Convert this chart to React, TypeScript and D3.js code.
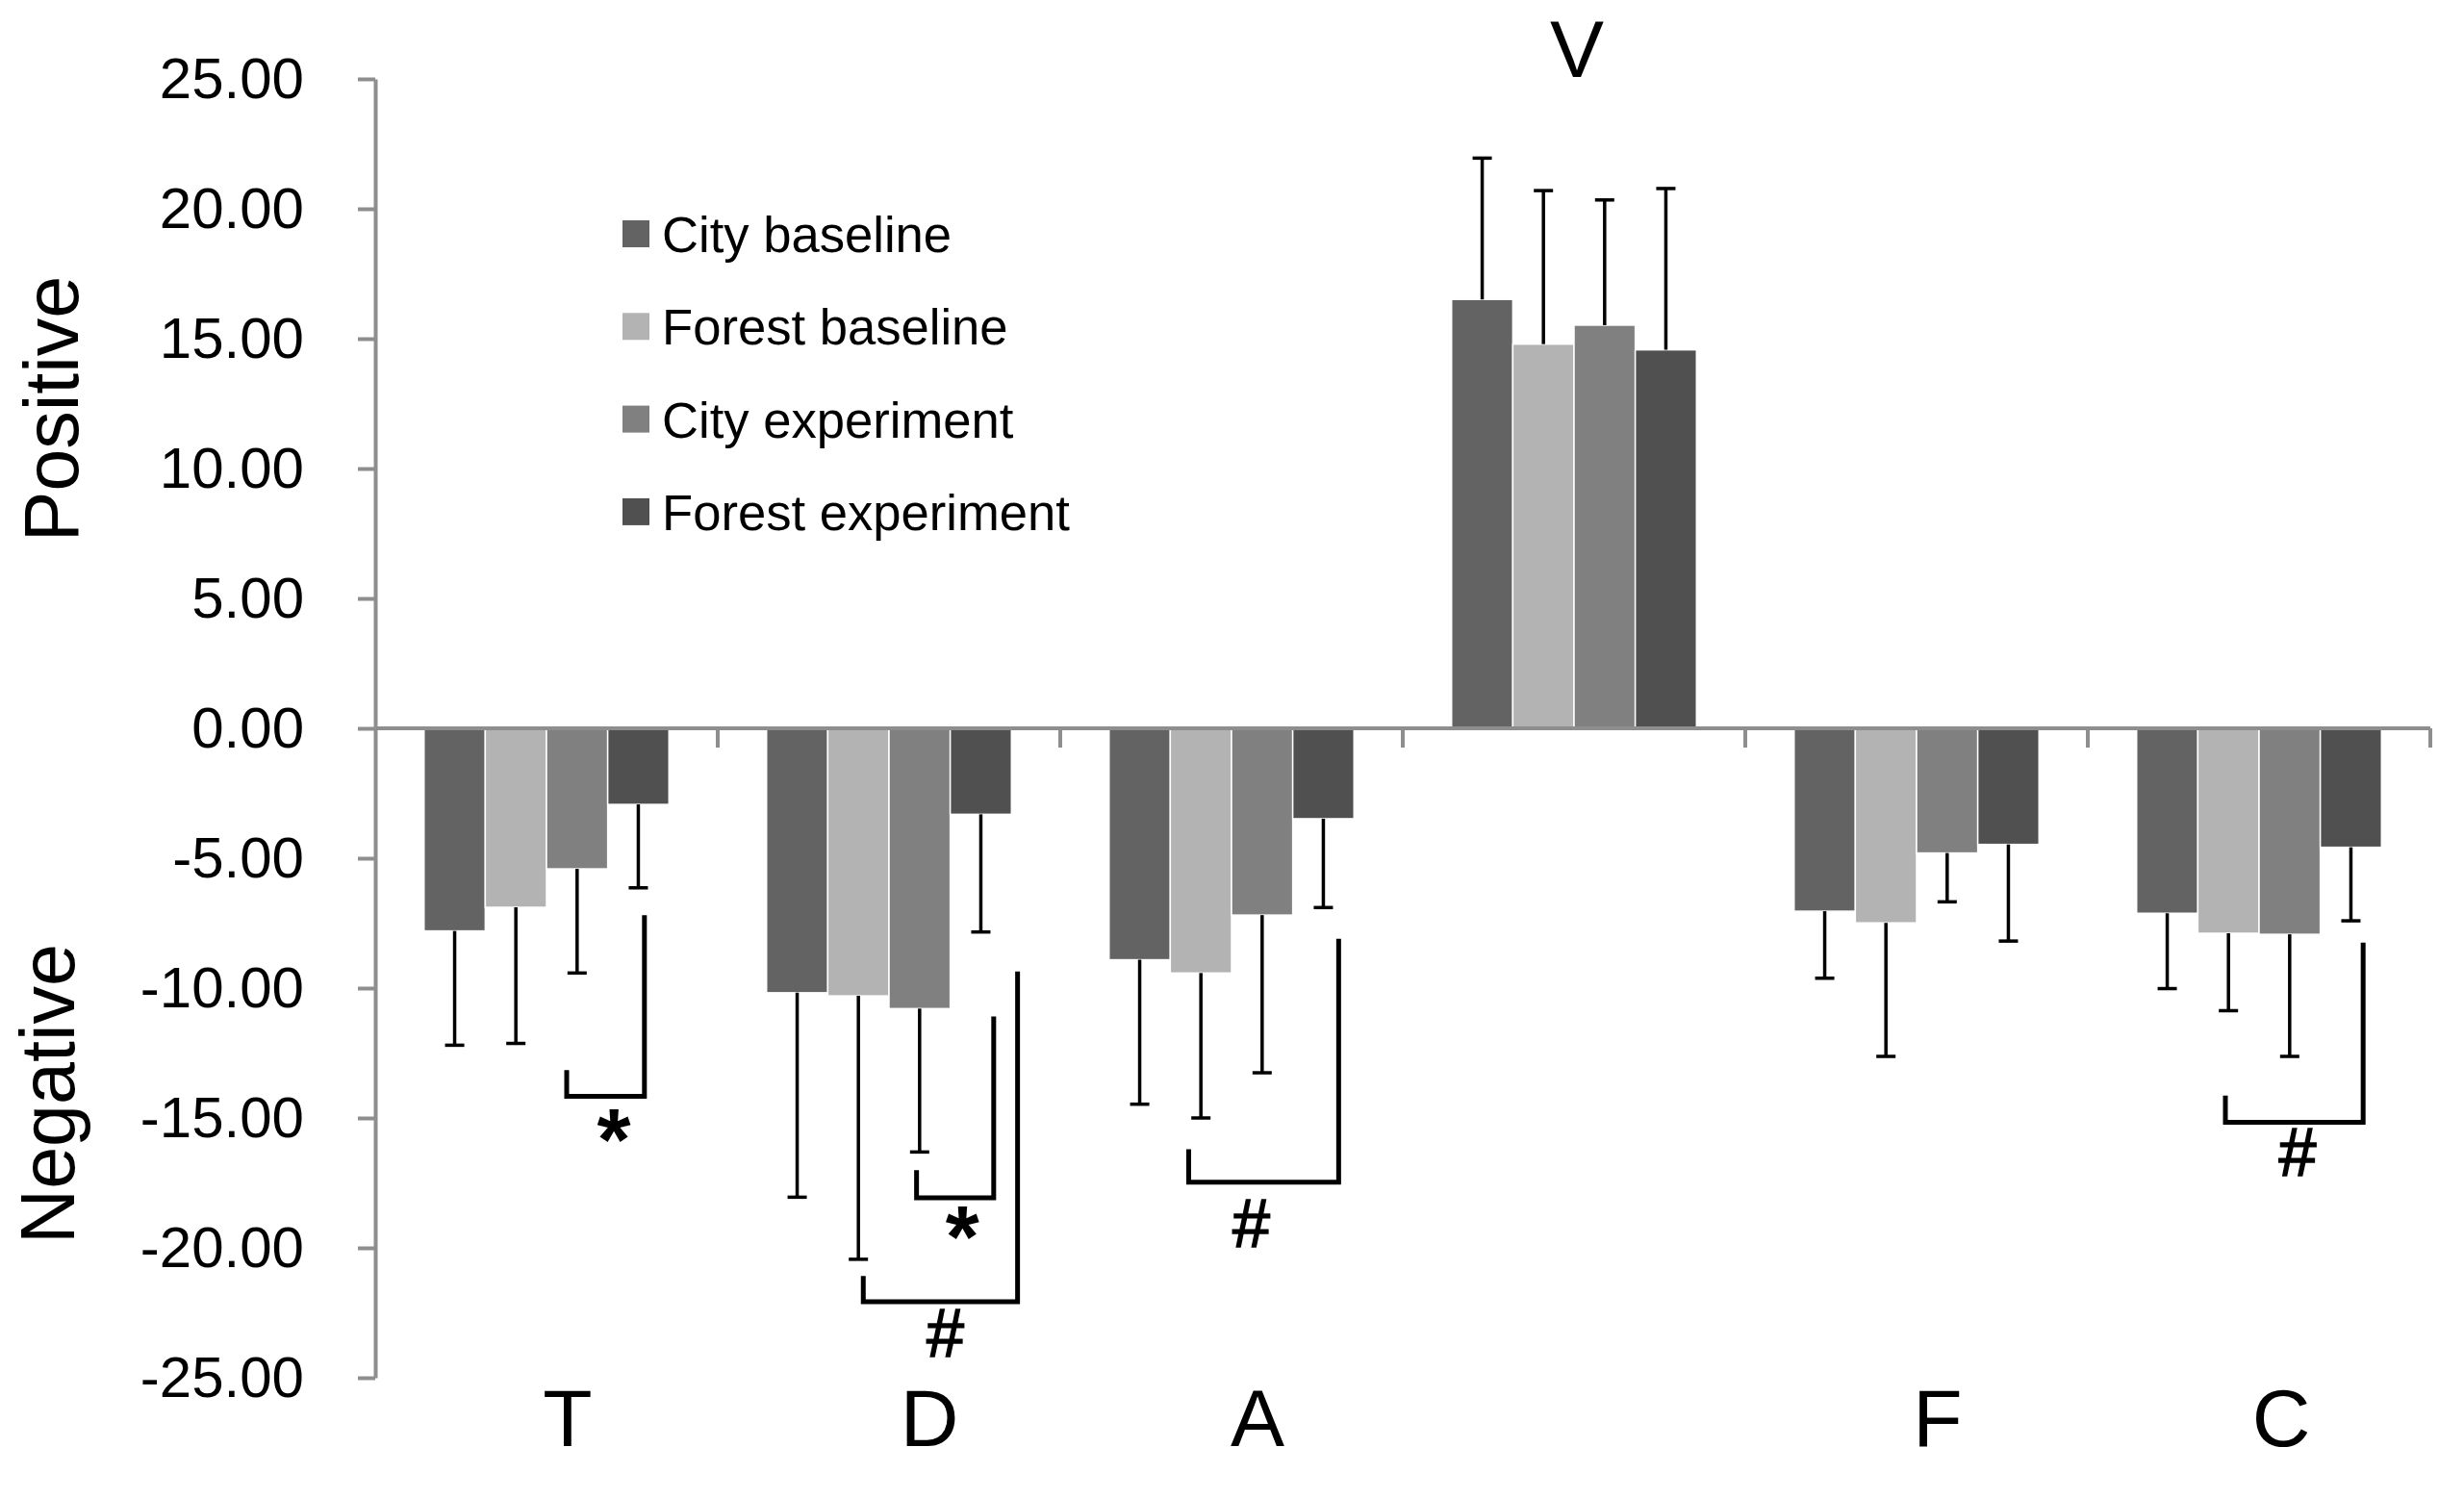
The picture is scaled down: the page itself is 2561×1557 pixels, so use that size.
import { useEffect, useRef } from "react";
import * as d3 from "d3";

// categories along the x axis
const categories = ["T", "D", "A", "V", "F", "C"];
const seriesNames = ["City baseline", "Forest baseline", "City experiment", "Forest experiment"];
const seriesColors = ["#636363", "#b3b3b3", "#808080", "#505050"];

// means per series (one value per category)
const cityBaseline = [-7.8, -10.18, -8.91, 16.51, -7.04, -7.12];
const forestBaseline = [-6.89, -10.3, -9.42, 14.79, -7.49, -7.89];
const cityExperiment = [-5.41, -10.79, -7.19, 15.52, -4.8, -7.93];
const forestExperiment = [-2.93, -3.31, -3.48, 14.57, -4.47, -4.58];

// standard deviations (drawn one-sided, away from zero)
const cityBaselineSd = [4.4, 7.87, 5.56, 5.44, 2.58, 2.9];
const forestBaselineSd = [5.24, 10.14, 5.58, 5.91, 5.14, 2.98];
const cityExperimentSd = [4.01, 5.52, 6.07, 4.82, 1.88, 4.7];
const forestExperimentSd = [3.21, 4.53, 3.42, 6.21, 3.72, 2.83];

const yTicks = [25, 20, 15, 10, 5, 0, -5, -10, -15, -20, -25];

// significance brackets: x in bar slots within the group, y in data units
const brackets = [
  { cat: "T", from: 2.33, to: 3.6, fromTop: -13.16, toTop: -7.19, bottom: -14.17, mark: "*", markX: 3.1, markY: -15.58 },
  { cat: "D", from: 2.45, to: 3.71, fromTop: -17.01, toTop: -11.09, bottom: -18.07, mark: "*", markX: 3.2, markY: -19.32 },
  { cat: "D", from: 1.58, to: 4.1, fromTop: -21.08, toTop: -9.36, bottom: -22.07, mark: "#", markX: 2.92, markY: -23.28 },
  { cat: "A", from: 1.3, to: 3.75, fromTop: -16.2, toTop: -8.1, bottom: -17.47, mark: "#", markX: 2.32, markY: -19.06 },
  { cat: "C", from: 1.45, to: 3.7, fromTop: -14.14, toTop: -8.25, bottom: -15.17, mark: "#", markX: 2.63, markY: -16.35 },
];

// small nudges for the hand-placed category letters (px)
const labelNudge = [22, 42, 27, 3, 22, 23];

export default function App() {
  const svgRef = useRef<SVGSVGElement | null>(null);

  useEffect(() => {
    const width = 2561;
    const height = 1557;
    const left = 390;
    const right = 2526;
    const top = 82;
    const bottom = 1432;
    const font = "'Liberation Sans', Arial, sans-serif";
    const axisColor = "#8e8e8e";

    const svg = d3.select(svgRef.current);
    svg.selectAll("*").remove();
    svg.attr("width", width).attr("height", height).attr("viewBox", `0 0 ${width} ${height}`);

    const values = [cityBaseline, forestBaseline, cityExperiment, forestExperiment];
    const sds = [cityBaselineSd, forestBaselineSd, cityExperimentSd, forestExperimentSd];

    const x = d3.scaleBand<string>()
      .domain(categories)
      .range([left, right])
      .paddingInner(0.285)
      .paddingOuter(0.1425);

    const xs = d3.scaleBand<string>()
      .domain(seriesNames)
      .range([0, x.bandwidth()]);

    const y = d3.scaleLinear().domain([-25, 25]).range([bottom, top]);

    const slot = (cat: string, pos: number) => (x(cat) || 0) + pos * xs.bandwidth();

    const rows = categories.flatMap((c, ci) =>
      seriesNames.map((s, si) => ({ c, s, si, v: values[si][ci], sd: sds[si][ci] }))
    );

    // bars
    svg.append("g")
      .selectAll("rect")
      .data(rows)
      .enter()
      .append("rect")
      .attr("x", (d) => (x(d.c) || 0) + (xs(d.s) || 0))
      .attr("width", xs.bandwidth())
      .attr("y", (d) => y(Math.max(0, d.v)))
      .attr("height", (d) => Math.abs(y(d.v) - y(0)))
      .attr("fill", (d) => seriesColors[d.si])
      .attr("stroke", "#ffffff")
      .attr("stroke-width", 1.5);

    // error bars
    const err = svg.append("g").attr("stroke", "#000").attr("stroke-width", 3.5);
    rows.forEach((d) => {
      const cx = (x(d.c) || 0) + (xs(d.s) || 0) + xs.bandwidth() / 2;
      const end = d.v + Math.sign(d.v) * d.sd;
      err.append("line")
        .attr("x1", cx).attr("x2", cx)
        .attr("y1", y(d.v)).attr("y2", y(end));
      err.append("line")
        .attr("x1", cx - 10).attr("x2", cx + 10)
        .attr("y1", y(end)).attr("y2", y(end));
    });

    // y axis
    const yAxis = svg.append("g")
      .attr("transform", `translate(${left},0)`)
      .call(
        d3.axisLeft(y)
          .tickValues(yTicks)
          .tickFormat((d) => (d as number).toFixed(2))
          .tickSize(18)
          .tickSizeOuter(0)
          .tickPadding(56)
      );
    yAxis.select(".domain").attr("stroke", axisColor).attr("stroke-width", 4);
    yAxis.selectAll(".tick line").attr("stroke", axisColor).attr("stroke-width", 4);
    yAxis.selectAll(".tick text")
      .attr("fill", "#000")
      .style("font-family", font)
      .style("font-size", "60px");

    // x axis along zero with category dividers
    const xAxis = svg.append("g").attr("stroke", axisColor).attr("stroke-width", 4);
    xAxis.append("line")
      .attr("x1", left).attr("x2", right)
      .attr("y1", y(0)).attr("y2", y(0));
    const dividers = categories.map((c) => (x(c) || 0) - x.step() * x.paddingOuter()).slice(1);
    dividers.push(right);
    xAxis.selectAll("line.div")
      .data(dividers)
      .enter()
      .append("line")
      .attr("class", "div")
      .attr("x1", (d) => d).attr("x2", (d) => d)
      .attr("y1", y(0)).attr("y2", y(0) + 20);

    // category letters
    svg.append("g")
      .selectAll("text")
      .data(categories)
      .enter()
      .append("text")
      .attr("x", (d, i) => (x(d) || 0) + x.bandwidth() / 2 + labelNudge[i])
      .attr("y", (d, i) => (values[0][i] > 0 ? 80 : 1503))
      .attr("text-anchor", "middle")
      .style("font-family", font)
      .style("font-size", "84px")
      .text((d) => d);

    // significance brackets
    const br = svg.append("g");
    brackets.forEach((b) => {
      const x1 = slot(b.cat, b.from);
      const x2 = slot(b.cat, b.to);
      br.append("path")
        .attr("d", `M${x1},${y(b.fromTop)}V${y(b.bottom)}H${x2}V${y(b.toTop)}`)
        .attr("fill", "none")
        .attr("stroke", "#000")
        .attr("stroke-width", 5);
      const isStar = b.mark === "*";
      const t = br.append("text")
        .attr("x", slot(b.cat, b.markX))
        .attr("y", y(b.markY) + (isStar ? 38 : 24))
        .attr("text-anchor", "middle")
        .style("font-family", font)
        .style("font-size", isStar ? "90px" : "70px")
        .text(b.mark);
      if (isStar) t.style("font-weight", "bold");
      else t.attr("stroke", "#000").attr("stroke-width", 1.6);
    });

    // axis titles
    svg.append("text")
      .attr("transform", "translate(53,425) rotate(-90)")
      .attr("text-anchor", "middle")
      .attr("dy", "0.36em")
      .style("font-family", font)
      .style("font-size", "79px")
      .text("Positive");
    svg.append("text")
      .attr("transform", "translate(49,1137) rotate(-90)")
      .attr("text-anchor", "middle")
      .attr("dy", "0.36em")
      .style("font-family", font)
      .style("font-size", "79px")
      .text("Negative");

    // legend
    const legend = svg.append("g").attr("transform", "translate(647,243)");
    seriesNames.forEach((name, i) => {
      const row = legend.append("g").attr("transform", `translate(0,${i * 96.3})`);
      row.append("rect")
        .attr("x", 0).attr("y", -14)
        .attr("width", 28).attr("height", 28)
        .attr("fill", seriesColors[i]);
      row.append("text")
        .attr("x", 41)
        .attr("y", 19)
        .style("font-family", font)
        .style("font-size", "52.6px")
        .text(name);
    });
  }, []);

  return (
    <div style={{ position: "absolute", left: 0, top: 0, background: "#fff" }}>
      <svg ref={svgRef} style={{ display: "block" }} />
    </div>
  );
}
